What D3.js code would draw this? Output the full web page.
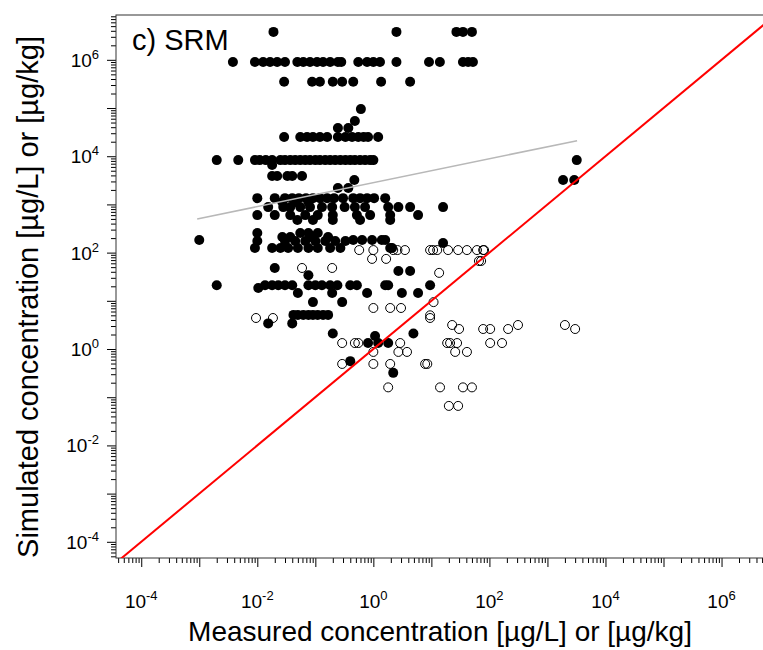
<!DOCTYPE html>
<html>
<head>
<meta charset="utf-8">
<script src="https://cdn.jsdelivr.net/npm/d3@7"></script>
<style>
  body { margin: 0; background: #fff; }
  svg { display: block; font-family: "Liberation Sans", Arial, sans-serif; }
</style>
</head>
<body>
<div id="chart"></div>
<script>
// simulated level [µg/L] -> measured values at that level (filled = pch 19)
const filledSimulated = [3.8e6, 9.0e5, 3.5e5, 9.5e4, 5.4e4, 3.85e4, 2.5e4, 8.3e3, 6.6e3, 3.9e3, 3.2e3, 2.2e3,
  1.35e3, 1.12e3, 880, 600, 475, 255, 210, 183, 174, 158, 125, 48, 41.5, 34, 21, 18.5, 14.5, 9.4, 5.1, 3.4,
  2.1, 1.86, 1.33, 0.56, 0.32];
const filledMeasured = [
  [0.019, 2.5, 27, 35, 50],
  [0.0038, 0.0091, 0.0126, 0.0166, 0.022, 0.030, 0.049, 0.062, 0.081, 0.107, 0.136, 0.18, 0.245, 0.28, 0.55, 0.78, 1.0, 1.3, 2.5, 9.1, 14, 35, 43, 52],
  [0.029, 0.088, 0.12, 0.20, 0.29, 0.45, 1.36, 4.3],
  [0.61],
  [0.48],
  [0.245, 0.37],
  [0.029, 0.055, 0.072, 0.091, 0.12, 0.16, 0.245, 0.33, 0.43, 0.55, 0.68, 0.81, 1.21],
  [0.002, 0.0047, 0.0091, 0.011, 0.014, 0.018, 0.025, 0.030, 0.037, 0.045, 0.055, 0.067, 0.081, 0.10, 0.12, 0.148, 0.18, 0.22, 0.27, 0.33, 0.40, 0.48, 0.59, 0.72, 0.88, 1.0, 3200],
  [0.018],
  [0.018, 0.022, 0.033, 0.040, 0.059],
  [0.47, 1860, 2900],
  [0.245, 0.37],
  [0.010, 0.020, 0.030, 0.040, 0.052, 0.069, 0.091, 0.12, 0.16, 0.21, 0.30, 0.45, 0.59, 0.78, 1.03, 1.6],
  [0.027, 0.045, 0.076],
  [0.0154, 0.028, 0.037, 0.055, 0.081, 0.13, 0.195, 0.32, 0.48, 0.72, 1.8, 2.7, 4.3, 15.9],
  [0.010, 0.020, 0.037, 0.067, 0.11, 0.20, 0.52, 0.88, 1.95, 5.9],
  [0.049, 0.091, 0.20, 0.59, 1.95],
  [0.010, 0.055, 0.076, 0.11],
  [0.027, 0.037, 0.081, 0.166],
  [0.001, 0.45, 0.64, 0.95, 1.4, 1.6],
  [0.010, 0.030, 0.045, 0.067, 0.10, 0.148, 0.22, 0.33],
  [15.9],
  [0.0091, 0.018, 0.025, 0.034, 0.050, 0.076, 0.11, 0.18, 0.27, 1.95, 2.1],
  [0.020],
  [2.7, 4.3],
  [0.076],
  [0.002, 0.0136, 0.018, 0.023, 0.030, 0.040, 0.076, 0.10, 0.13, 0.18, 0.24, 0.40, 0.52, 1.6, 1.8, 9.5],
  [0.0104],
  [0.050, 0.195, 0.78, 3.1, 5.9],
  [0.091, 0.29],
  [0.042, 0.050, 0.062, 0.076, 0.091, 0.11, 0.136, 0.166],
  [0.0154, 0.040],
  [0.20, 4.9],
  [1.07],
  [0.81, 1.21, 1.8],
  [0.40],
  [2.2]
];

// open circles (pch 1)
const openSimulated = [113, 74, 67, 48, 38, 9.4, 7.1, 5.0, 4.4, 3.15, 2.6, 1.33, 0.87, 0.49, 0.16, 0.066];
const openMeasured = [
  [0.57, 1.0, 2.2, 2.6, 3.5, 9.5, 10.7, 12.6, 19.4, 28.9, 41, 61, 78, 81],
  [0.95, 1.66],
  [66, 72],
  [0.059, 0.195],
  [13.6],
  [10.9],
  [1.0, 1.95, 3.0],
  [9.5],
  [0.0095, 0.0186, 9.5],
  [22.8, 311, 2000],
  [30, 78, 103, 210, 3000],
  [0.29, 0.48, 0.55, 2.9, 18.7, 21, 27.7, 103, 165],
  [1.0, 2.7, 3.8, 25.7, 41],
  [0.29, 1.0, 1.95, 7.8, 8.5],
  [1.8, 14.1, 35, 50],
  [20, 28.9]
];

// grey regression line end points (measured, simulated)
const fitLine = [[9.2e-4, 500], [3240, 2.1e4]];

const panelLabel = "c) SRM";
const xTitle = "Measured concentration [µg/L] or [µg/kg]";
const yTitle = "Simulated concentration [µg/L] or [µg/kg]";

const flatten = (levels, meas) => levels.flatMap((s, i) => meas[i].map(m => ({ m: m, s: s })));
const filled = flatten(filledSimulated, filledMeasured);
const open = flatten(openSimulated, openMeasured);

const plot = { left: 116, top: 15, right: 775.5, bottom: 558 };

const svg = d3.select("#chart").append("svg")
    .attr("width", 763)
    .attr("height", 650);

const x = d3.scaleLog()
    .domain([Math.pow(10, -4.435), Math.pow(10, 6.93)])
    .range([plot.left, plot.right]);
const y = d3.scaleLog()
    .domain([Math.pow(10, -4.336), Math.pow(10, 6.93)])
    .range([plot.bottom, plot.top]);

svg.append("clipPath").attr("id", "clip")
  .append("rect")
    .attr("x", plot.left).attr("y", plot.top)
    .attr("width", plot.right - plot.left).attr("height", plot.bottom - plot.top);

// ticks
const majors = d3.range(-5, 8).map(k => Math.pow(10, k));
let minors = [];
d3.range(-5, 7).forEach(k => {
  for (let m = 2; m <= 9; m++) minors.push(m * Math.pow(10, k));
});
const inX = v => v >= x.domain()[0] && v <= x.domain()[1];
const inY = v => v >= y.domain()[0] && v <= y.domain()[1];

function styleAxis(g) {
  g.select(".domain").remove();
  g.selectAll("line").attr("stroke", "#000").attr("stroke-width", 1);
}

svg.append("g").attr("transform", "translate(0," + plot.bottom + ")")
    .call(d3.axisBottom(x).tickValues(minors.filter(inX)).tickSize(5).tickFormat(""))
    .call(styleAxis);
svg.append("g").attr("transform", "translate(0," + plot.bottom + ")")
    .call(d3.axisBottom(x).tickValues(majors.filter(inX)).tickSize(9).tickFormat(""))
    .call(styleAxis);
svg.append("g").attr("transform", "translate(" + plot.left + ",0)")
    .call(d3.axisLeft(y).tickValues(minors.filter(inY)).tickSize(5).tickFormat(""))
    .call(styleAxis);
svg.append("g").attr("transform", "translate(" + plot.left + ",0)")
    .call(d3.axisLeft(y).tickValues(majors.filter(inY)).tickSize(9).tickFormat(""))
    .call(styleAxis);

// power-of-ten labels
const labelExps = [-4, -2, 0, 2, 4, 6];
function powLabel(sel) {
  sel.append("tspan").text("10");
  sel.append("tspan").attr("dy", -8).attr("font-size", 13).text(d => d);
}
svg.append("g").selectAll("text").data(labelExps).enter().append("text")
    .attr("x", d => x(Math.pow(10, d)))
    .attr("y", 608)
    .attr("text-anchor", "middle")
    .attr("font-size", 19)
    .call(powLabel);
svg.append("g").selectAll("text").data(labelExps).enter().append("text")
    .attr("x", 99)
    .attr("y", d => y(Math.pow(10, d)) + 7)
    .attr("text-anchor", "end")
    .attr("font-size", 19)
    .call(powLabel);

// frame
svg.append("rect")
    .attr("x", plot.left).attr("y", plot.top)
    .attr("width", plot.right - plot.left).attr("height", plot.bottom - plot.top)
    .attr("fill", "none").attr("stroke", "#333").attr("stroke-width", 1);

const body = svg.append("g").attr("clip-path", "url(#clip)");

body.selectAll(".filled").data(filled).enter().append("circle")
    .attr("class", "filled")
    .attr("cx", d => x(d.m))
    .attr("cy", d => y(d.s))
    .attr("r", 5)
    .attr("fill", "#000");

body.selectAll(".open").data(open).enter().append("circle")
    .attr("class", "open")
    .attr("cx", d => x(d.m))
    .attr("cy", d => y(d.s))
    .attr("r", 4.5)
    .attr("fill", "none")
    .attr("stroke", "#000")
    .attr("stroke-width", 1);

const line = d3.line().x(d => x(d[0])).y(d => y(d[1]));

body.append("path")
    .datum(fitLine)
    .attr("d", line)
    .attr("fill", "none")
    .attr("stroke", "#b8b8b8")
    .attr("stroke-width", 1.6);

const lo = Math.min(x.domain()[0], y.domain()[0]);
const hi = Math.max(x.domain()[1], y.domain()[1]);
body.append("path")
    .datum([[lo, lo], [hi, hi]])
    .attr("d", line)
    .attr("fill", "none")
    .attr("stroke", "#ff0000")
    .attr("stroke-width", 2);

svg.append("text")
    .attr("x", 132).attr("y", 50)
    .attr("font-size", 29)
    .text(panelLabel);

svg.append("text")
    .attr("x", 440).attr("y", 641)
    .attr("text-anchor", "middle")
    .attr("font-size", 28)
    .text(xTitle);

svg.append("text")
    .attr("transform", "translate(38,297) rotate(-90)")
    .attr("text-anchor", "middle")
    .attr("font-size", 29)
    .text(yTitle);
</script>
</body>
</html>
